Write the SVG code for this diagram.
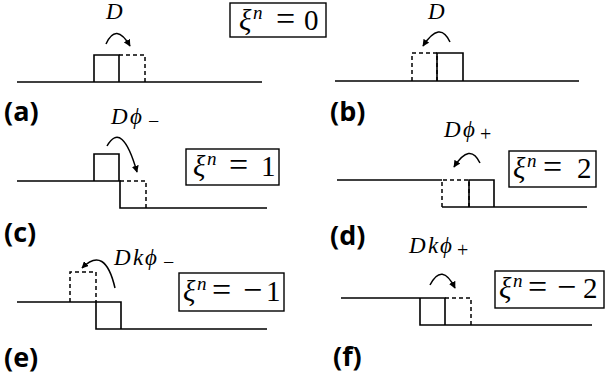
<svg xmlns="http://www.w3.org/2000/svg" width="605" height="388" viewBox="0 0 605 388">
<style>
.ln{fill:none;stroke:#000;stroke-width:1.6}
.ds{fill:none;stroke:#000;stroke-width:1.5;stroke-dasharray:4 3}
.arc{fill:none;stroke:#000;stroke-width:1.5}
.lab{font-family:"Open Sans","Liberation Sans",Arial,sans-serif;font-weight:bold;font-size:27px;fill:#000}
.m{font-family:"Liberation Serif","DejaVu Serif",serif;font-style:italic;font-size:23px;fill:#000}
.sb{font-family:"Liberation Serif","DejaVu Serif",serif;font-style:normal;font-size:20px}
.bx{fill:#fff;stroke:#000;stroke-width:1.4}
.eq{font-family:"Liberation Serif","DejaVu Serif",serif;font-size:29px;fill:#000}
.it{font-style:italic}
.sp{font-size:19px;font-style:italic}
.op{font-size:34px}
</style>
<defs>
<marker id="ah" viewBox="0 0 10 10" refX="9" refY="5" markerWidth="7" markerHeight="7" orient="auto" markerUnits="userSpaceOnUse">
<path d="M0,0 L10,5 L0,10 z" fill="#000"/>
</marker>
</defs>

<g id="panel-a">
<path class="ln" d="M17,82 H262"/>
<path class="ln" d="M94,82 V55 H119 V82"/>
<path class="ds" d="M119,55 H145 V82"/>
<text class="m" x="106" y="19">D</text>
<g id="box-a"><rect class="bx" x="230" y="3" width="96" height="34"/>
<text class="eq" y="30"><tspan class="it" x="239">ξ</tspan><tspan class="sp" x="253" dy="-11">n</tspan><tspan class="op" x="276" dy="11">=</tspan><tspan x="304">0</tspan></text></g>
<text class="lab" x="4" y="121">(a)</text>
</g>

<g id="panel-b">
<path class="ln" d="M335,81 H579"/>
<path class="ds" d="M437,81 V53 H412 V81"/>
<path class="ln" d="M437,81 V53 H463 V81"/>
<text class="m" x="428" y="19">D</text>
<text class="lab" x="330" y="121">(b)</text>
</g>

<g id="panel-c">
<path class="ln" d="M17,181 H120 V208 H267"/>
<path class="ln" d="M94,181 V154 H119 V181"/>
<path class="ds" d="M120,181 H146 V208"/>
<text class="m" y="124"><tspan x="111">D</tspan><tspan x="130">ϕ</tspan><tspan class="sb" x="148" dy="4">−</tspan></text>
<g id="box-c"><rect class="bx" x="186" y="149" width="93" height="36"/>
<text class="eq" y="176"><tspan class="it" x="193">ξ</tspan><tspan class="sp" x="207" dy="-11">n</tspan><tspan class="op" x="229" dy="11">=</tspan><tspan x="261">1</tspan></text></g>
<text class="lab" x="4" y="242">(c)</text>
</g>

<g id="panel-d">
<path class="ln" d="M337,180 H442"/>
<path class="ln" d="M442,207 H587"/>
<path class="ds" d="M442,207 V180 H469 V207"/>
<path class="ln" d="M469,207 V180 H494 V207"/>
<text class="m" y="137"><tspan x="444">D</tspan><tspan x="463">ϕ</tspan><tspan class="sb" x="480" dy="4">+</tspan></text>
<g id="box-d"><rect class="bx" x="509" y="151" width="87" height="36"/>
<text class="eq" y="178"><tspan class="it" x="513">ξ</tspan><tspan class="sp" x="527" dy="-11">n</tspan><tspan class="op" x="543" dy="11">=</tspan><tspan x="577">2</tspan></text></g>
<text class="lab" x="330" y="245">(d)</text>
</g>

<g id="panel-e">
<path class="ln" d="M17,302 H121 V329"/>
<path class="ln" d="M96,302 V329 H267"/>
<path class="ds" d="M70,302 V272 H96 V302"/>
<text class="m" y="265"><tspan x="114">D</tspan><tspan x="133">k</tspan><tspan x="145">ϕ</tspan><tspan class="sb" x="163" dy="4">−</tspan></text>
<g id="box-e"><rect class="bx" x="179" y="273" width="105" height="38"/>
<text class="eq" y="301"><tspan class="it" x="183">ξ</tspan><tspan class="sp" x="197" dy="-11">n</tspan><tspan class="op" x="212" dy="11">=</tspan><tspan class="op" x="243">−</tspan><tspan x="266">1</tspan></text></g>
<text class="lab" x="4" y="367">(e)</text>
</g>

<g id="panel-f">
<path class="ln" d="M341,298 H445 V325"/>
<path class="ln" d="M420,298 V325 H592"/>
<path class="ds" d="M445,298 H471 V325"/>
<text class="m" y="253"><tspan x="409">D</tspan><tspan x="428">k</tspan><tspan x="440">ϕ</tspan><tspan class="sb" x="457" dy="4">+</tspan></text>
<g id="box-f"><rect class="bx" x="495" y="271" width="109" height="37"/>
<text class="eq" y="298"><tspan class="it" x="499">ξ</tspan><tspan class="sp" x="513" dy="-11">n</tspan><tspan class="op" x="528" dy="11">=</tspan><tspan class="op" x="557">−</tspan><tspan x="583">2</tspan></text></g>
<text class="lab" x="333" y="366">(f)</text>
</g>

<g id="connectors">
<path class="arc" marker-end="url(#ah)" d="M106,44 Q116,22 130,46"/>
<path class="arc" marker-end="url(#ah)" d="M450,42 Q440,20 423,46"/>
<path class="arc" marker-end="url(#ah)" d="M107,146 Q122,120 137,172"/>
<path class="arc" marker-end="url(#ah)" d="M480,163 Q470,142 454,167"/>
<path class="arc" marker-end="url(#ah)" d="M115,288 Q105,245 82,268"/>
<path class="arc" marker-end="url(#ah)" d="M430,285 Q442,262 455,288"/>
</g>
</svg>
